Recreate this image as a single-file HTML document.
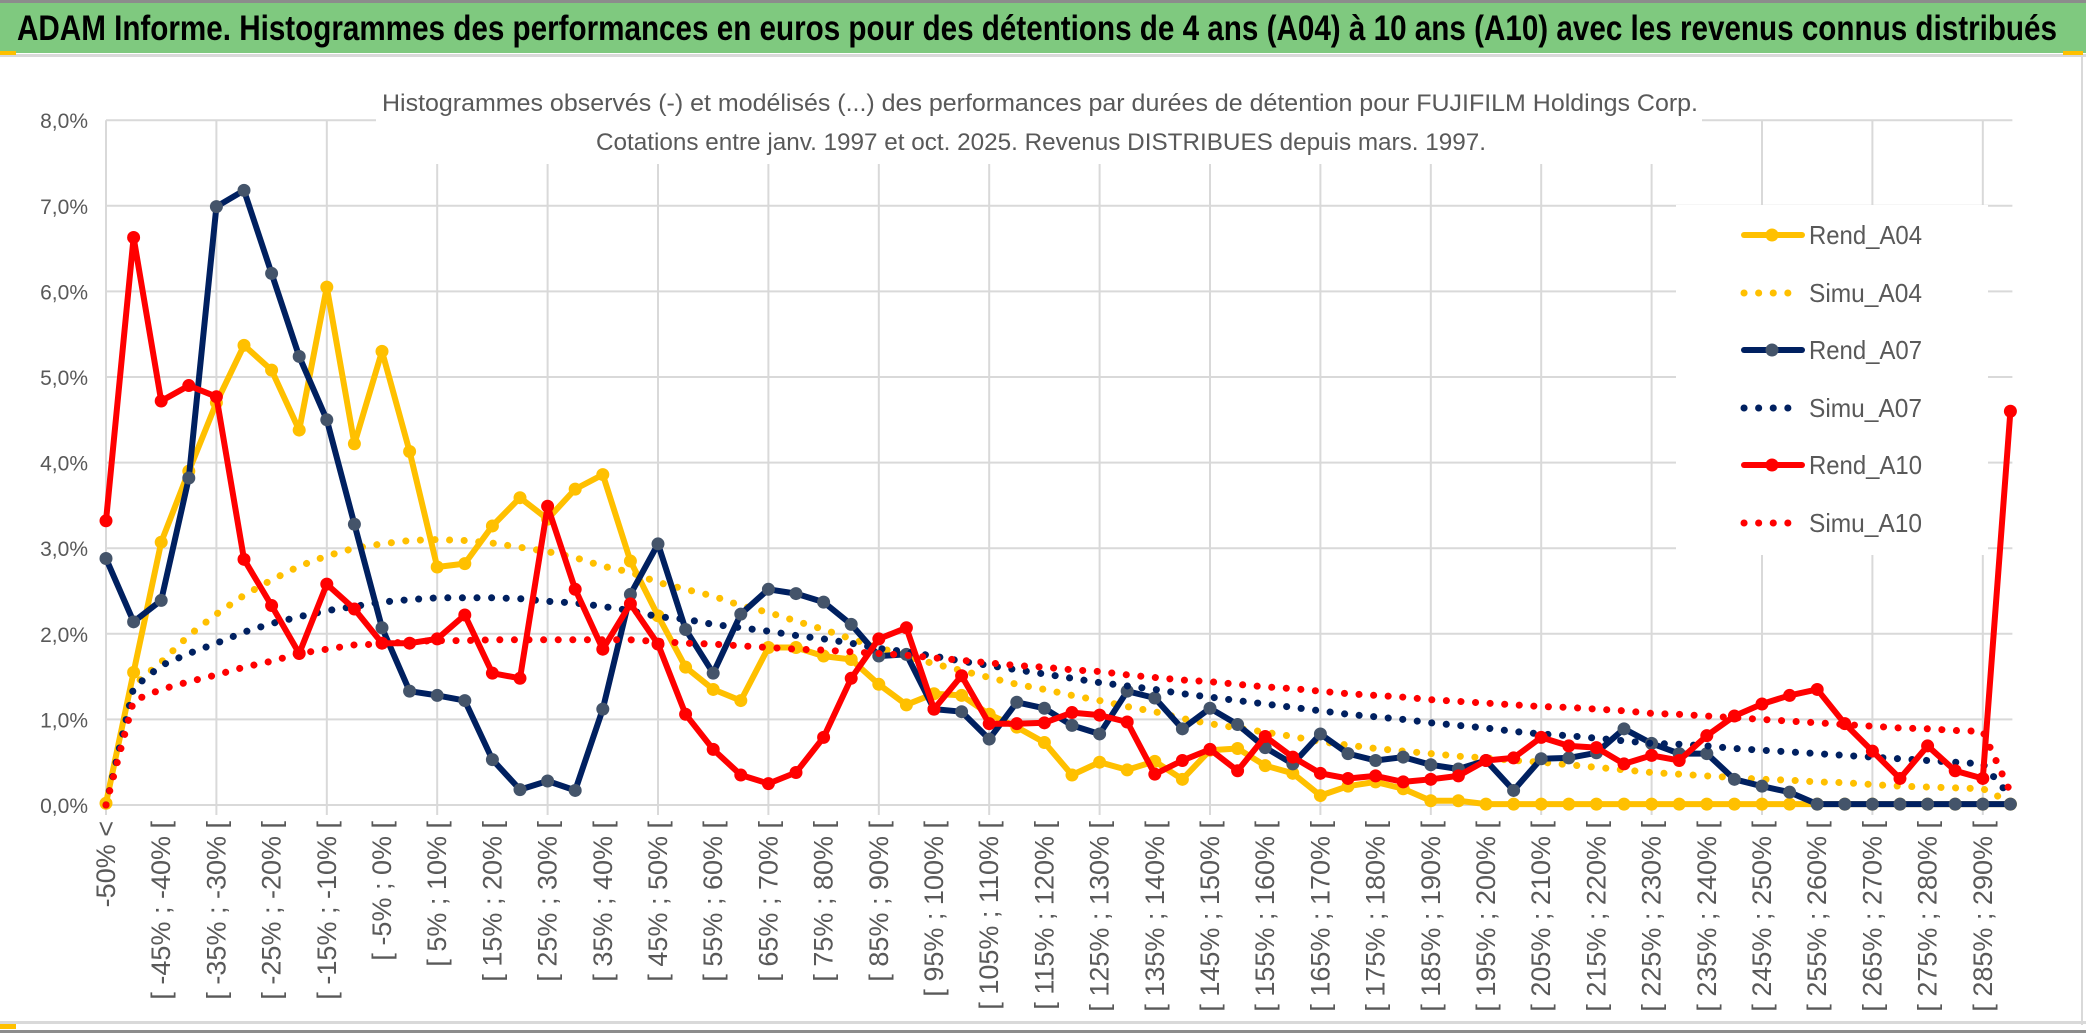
<!DOCTYPE html>
<html><head><meta charset="utf-8">
<style>
html,body{margin:0;padding:0;background:#fff;}
svg{display:block;font-family:"Liberation Sans",sans-serif;}
</style></head>
<body>
<svg id="chart" width="2086" height="1033" viewBox="0 0 2086 1033" xmlns="http://www.w3.org/2000/svg">
  <rect x="0" y="0" width="2086" height="1033" fill="#fff"/>
  <rect x="0" y="0" width="2086" height="3" fill="#8c8c8c"/>
  <rect x="0" y="3" width="2086" height="50" fill="#7fc97f"/>
  <text x="17" y="40" font-size="35" font-weight="bold" fill="#000" textLength="2040" lengthAdjust="spacingAndGlyphs">ADAM Informe. Histogrammes des performances en euros pour des détentions de 4 ans (A04) à 10 ans (A10) avec les revenus connus distribués</text>
  <rect x="0" y="54" width="2086" height="3" fill="#d9d9d9"/>
  <rect x="0" y="51" width="16" height="4" fill="#ffc000"/>
  <rect x="2063" y="51" width="20" height="4" fill="#ffc000"/>
  <rect x="2081" y="55" width="2" height="970" fill="#d9d9d9"/>
  <rect x="0" y="1021" width="2086" height="3" fill="#d9d9d9"/>
  <rect x="0" y="1024" width="16" height="5" fill="#ffc000"/>
  <rect x="0" y="1030" width="2086" height="3" fill="#8c8c8c"/>
  <g id="grid"></g>
  <g id="xlabels"></g>
  <g id="ylabels"></g>
  <g id="series"></g>
  <rect x="376" y="80" width="1326" height="84" fill="#fff"/>
  <text x="1040" y="111" font-size="24" fill="#595959" text-anchor="middle" textLength="1316" lengthAdjust="spacingAndGlyphs">Histogrammes observés (-) et modélisés (...) des performances par durées de détention pour FUJIFILM Holdings Corp.</text>
  <text x="1041" y="150" font-size="24" fill="#595959" text-anchor="middle" textLength="890" lengthAdjust="spacingAndGlyphs">Cotations entre janv. 1997 et oct. 2025. Revenus DISTRIBUES depuis mars. 1997.</text>
  <g id="legend"></g>
</svg>
<script>
const categories = (function(){ const c=["-50% <"]; for(let k=1;k<70;k++){ const a=-55+5*k; c.push("[ "+a+"% ; "+(a+5)+"% ["); } return c; })();
const yTicks = [0,1,2,3,4,5,6,7,8];
const yTickLabels = ["0,0%","1,0%","2,0%","3,0%","4,0%","5,0%","6,0%","7,0%","8,0%"];
const seriesNames = ["Rend_A04","Simu_A04","Rend_A07","Simu_A07","Rend_A10","Simu_A10"];
const rendA04 = [0.02,1.55,3.07,3.9,4.7,5.37,5.08,4.38,6.05,4.22,5.3,4.13,2.78,2.82,3.26,3.59,3.34,3.69,3.86,
  2.85,2.21,1.61,1.35,1.22,1.84,1.84,1.74,1.7,1.41,1.17,1.3,1.28,1.06,0.91,0.73,0.35,0.5,0.41,0.51,0.3,0.64,0.66,0.46,0.37,0.11,0.22,0.27,0.19,0.05,0.05,
  0.01,0.01,0.01,0.01,0.01,0.01,0.01,0.01,0.01,0.01,0.01,0.01,0.01,0.01,0.01,0.01,0.01,0.01,0.01,0.01];
const simuA04 = [0,1.4,1.67,1.98,2.23,2.45,2.63,2.79,2.91,3.0,3.05,3.09,3.1,3.09,3.06,3.01,2.96,2.89,2.79,
  2.72,2.6,2.52,2.44,2.33,2.25,2.15,2.05,1.94,1.84,1.74,1.65,1.57,1.49,1.41,1.35,1.28,1.22,1.15,1.09,1.01,0.95,0.9,0.85,0.8,0.74,0.7,0.66,0.63,0.6,0.57,0.55,0.52,0.5,0.47,0.44,0.41,0.38,0.36,0.34,0.32,0.3,0.29,0.27,0.26,0.24,0.22,0.21,0.2,0.19,0.03];
const rendA07 = [2.88,2.14,2.39,3.82,6.99,7.18,6.21,5.24,4.5,3.28,2.07,1.33,1.28,1.22,0.53,0.18,0.28,0.17,1.12,
  2.46,3.05,2.05,1.54,2.23,2.52,2.47,2.37,2.11,1.74,1.76,1.12,1.09,0.77,1.2,1.13,0.93,0.83,1.33,1.25,0.89,1.13,0.94,0.67,0.48,0.83,0.6,0.52,0.56,0.47,0.42,0.52,0.17,0.54,0.55,0.61,0.89,0.72,0.6,0.6,0.3,0.22,0.15,
  0.01,0.01,0.01,0.01,0.01,0.01,0.01,0.01];
const simuA07 = [0,1.37,1.63,1.77,1.89,2.02,2.12,2.2,2.27,2.32,2.37,2.4,2.42,2.42,2.42,2.41,2.38,2.36,2.32,
  2.27,2.2,2.17,2.11,2.07,2.03,1.98,1.94,1.89,1.83,1.79,1.74,1.68,1.63,1.58,1.53,1.48,1.43,
  1.39,1.35,1.3,1.26,1.22,1.18,1.14,1.1,1.06,1.03,1.0,0.96,0.93,0.9,0.86,0.83,0.81,0.78,
  0.75,0.72,0.71,0.69,0.66,0.64,0.62,0.6,0.58,0.56,0.54,0.52,0.5,0.48,0.1];
const rendA10 = [3.32,6.63,4.72,4.9,4.77,2.87,2.33,1.77,2.58,2.29,1.89,1.89,1.94,2.22,1.54,1.48,3.49,2.52,1.82,
  2.35,1.88,1.06,0.65,0.35,0.25,0.38,0.79,1.48,1.94,2.07,1.12,1.51,0.95,0.95,0.96,1.08,1.05,0.97,0.36,0.52,0.65,0.4,0.8,0.56,0.37,0.31,0.34,0.27,0.3,0.34,0.52,0.55,0.79,0.69,0.67,0.48,0.58,0.52,0.81,1.04,1.18,1.28,1.35,0.95,0.63,0.31,0.69,0.4,0.31,4.6];
const simuA10 = [0,1.22,1.35,1.44,1.52,1.61,1.68,1.77,1.82,1.87,1.88,1.91,1.92,1.92,1.93,1.93,1.93,1.93,1.93,
  1.93,1.91,1.89,1.88,1.86,1.84,1.82,1.81,1.79,1.77,1.75,1.72,1.69,1.66,1.63,1.61,1.58,1.56,
  1.52,1.49,1.46,1.44,1.41,1.38,1.36,1.33,1.3,1.28,1.26,1.23,1.21,1.19,1.17,1.15,1.14,1.12,
  1.1,1.07,1.06,1.04,1.02,1.0,0.98,0.96,0.94,0.92,0.9,0.89,0.87,0.86,0.15];

const NS="http://www.w3.org/2000/svg";
const X0=106, XSTEP=27.6, Y0=805, YUNIT=85.6;
function xPos(i){ return X0 + i*XSTEP; }
function yPos(v){ return Y0 - v*YUNIT; }
function mk(tag, attrs, parent){ const e=document.createElementNS(NS,tag); for(const k in attrs) e.setAttribute(k,attrs[k]); parent.appendChild(e); return e; }

const grid=document.getElementById('grid');
const xRight = xPos(categories.length-1)+2;
yTicks.forEach(function(t){
  const l=mk('line',{x1:X0,x2:xRight,y1:yPos(t),y2:yPos(t),stroke:'#d9d9d9','stroke-width':2},grid);
  
  
});
for(let i=0;i<categories.length;i+=4){
  const l=mk('line',{x1:xPos(i),x2:xPos(i),y1:yPos(8),y2:Y0+10,stroke:'#d9d9d9','stroke-width':2},grid);
  
  
}

const yl=document.getElementById('ylabels');
yTicks.forEach(function(t,k){
  const tx=mk('text',{x:88,y:yPos(t)+8,'font-size':21,fill:'#595959','text-anchor':'end'},yl);
  tx.textContent=yTickLabels[k];
  
  
});

const xl=document.getElementById('xlabels');
for(let i=0;i<categories.length;i+=2){
  const x=xPos(i)+9, y=821;
  const tx=mk('text',{x:x,y:y,'font-size':27,fill:'#595959','text-anchor':'end',transform:'rotate(-90 '+x+' '+y+')'},xl);
  tx.textContent=categories[i];
  
  
}

const sg=document.getElementById('series');
function drawDotted(vals,color,name){
  const d=vals.map(function(v,i){return (i?'L':'M')+xPos(i).toFixed(1)+' '+yPos(v).toFixed(1);}).join(' ');
  const p=mk('path',{d:d,fill:'none',stroke:color,'stroke-width':7,'stroke-linecap':'round','stroke-dasharray':'0.1 14.5'},sg);
  
  
}
function drawSolid(vals,color,marker,name){
  const d=vals.map(function(v,i){return (i?'L':'M')+xPos(i).toFixed(1)+' '+yPos(v).toFixed(1);}).join(' ');
  const p=mk('path',{d:d,fill:'none',stroke:color,'stroke-width':6,'stroke-linejoin':'round'},sg);
  
  
  vals.forEach(function(v,i){
    const c=mk('circle',{cx:xPos(i),cy:yPos(v),r:6.5,fill:marker},sg);
    
    
  });
}
drawSolid(rendA04,'#ffc000','#ffc000','rend-a04-line');
drawDotted(simuA04,'#ffc000','simu-a04-line');
drawSolid(rendA07,'#002060','#44546a','rend-a07-line');
drawDotted(simuA07,'#002060','simu-a07-line');
drawSolid(rendA10,'#ff0000','#ff0000','rend-a10-line');
drawDotted(simuA10,'#ff0000','simu-a10-line');

const lg=document.getElementById('legend');
const lbg=mk('rect',{x:1676,y:205,width:312,height:350,fill:'#fff'},lg);


const legendColors=['#ffc000','#ffc000','#002060','#002060','#ff0000','#ff0000'];
const legendMarkers=['#ffc000',null,'#44546a',null,'#ff0000',null];
const legendY=[235,293,350,408,465,523];
seriesNames.forEach(function(n,k){
  const y=legendY[k];
  const g=mk('g',{},lg);
  
  
  if(legendMarkers[k]){
    mk('line',{x1:1744,x2:1802,y1:y,y2:y,stroke:legendColors[k],'stroke-width':6,'stroke-linecap':'round'},g);
    mk('circle',{cx:1772,cy:y,r:6.5,fill:legendMarkers[k]},g);
  } else {
    mk('line',{x1:1744,x2:1796,y1:y,y2:y,stroke:legendColors[k],'stroke-width':7,'stroke-linecap':'round','stroke-dasharray':'0.1 14.5'},g);
  }
  const t=mk('text',{x:1809,y:y+9,'font-size':26,fill:'#595959',textLength:113,lengthAdjust:'spacingAndGlyphs'},g);
  t.textContent=n;
});
</script>
</body></html>
